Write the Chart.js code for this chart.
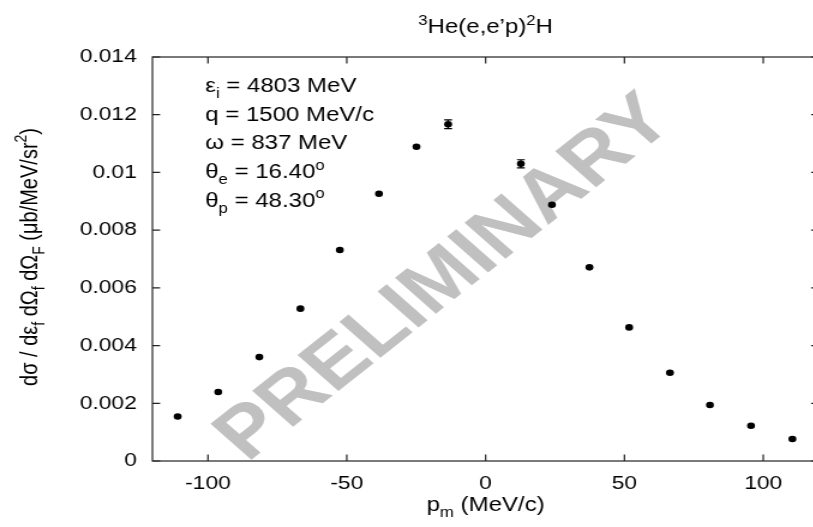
<!DOCTYPE html>
<html>
<head>
<meta charset="utf-8">
<script src="https://cdn.jsdelivr.net/npm/chart.js@4.4.1/dist/chart.umd.min.js"></script>
<style>
  html, body { margin: 0; padding: 0; background: #fff; overflow: hidden; }
</style>
</head>
<body>
<canvas id="chart1" width="690" height="527" style="width:828px;height:527px"></canvas>
<script>
// missing momentum (MeV/c) and cross section (ub/MeV/sr^2)
const pm = [-110.9, -96.3, -81.5, -66.7, -52.5, -38.4, -24.9, -13.5, 12.7, 23.9, 37.4, 51.7, 66.4, 80.8, 95.6, 110.5];
const xsec = [0.00154, 0.00239, 0.0036, 0.00528, 0.00731, 0.00926, 0.01089, 0.01167, 0.0103, 0.00888, 0.00671, 0.00463, 0.00306, 0.00194, 0.00122, 0.00076];
const xsecErr = [0, 0, 0, 0, 0, 0, 0, 0.00015, 0.00014, 0, 0, 0, 0, 0, 0, 0];

const xTicks = [-100, -50, 0, 50, 100];
const yTicks = [0, 0.002, 0.004, 0.006, 0.008, 0.01, 0.012, 0.014];
const yTickLabels = ['0', '0.002', '0.004', '0.006', '0.008', '0.01', '0.012', '0.014'];

const kinematics = [
  [['ε'], ['i', 'sub'], [' = 4803 MeV']],
  [['q = 1500 MeV/c']],
  [['ω = 837 MeV']],
  [['θ'], ['e', 'sub'], [' = 16.40'], ['o', 'sup']],
  [['θ'], ['p', 'sub'], [' = 48.30'], ['o', 'sup']]
];
const titleText = [['3', 'sup'], ['He(e,e’p)'], ['2', 'sup'], ['H']];
const xLabel = [['p'], ['m', 'sub'], [' (MeV/c)']];
const yLabel = [['dσ / dε'], ['f', 'sub'], [' dΩ'], ['f', 'sub'], [' dΩ'], ['F', 'sub'], [' (μb/MeV/sr'], ['2', 'sup'], [')']];

const FONT = '"Liberation Sans", Arial, Helvetica, sans-serif';

// text with sub/superscripts, drawn run by run
function drawRich(ctx, runs, x, y, size, align) {
  const parts = runs.map(([t, kind]) => {
    const s = kind ? size * 0.7 : size;
    ctx.font = s + 'px ' + FONT;
    return { t, s, dy: kind === 'sub' ? size * 0.3 : kind === 'sup' ? -size * 0.42 : 0, w: ctx.measureText(t).width };
  });
  const total = parts.reduce((a, p) => a + p.w, 0);
  let cx = align === 'center' ? x - total / 2 : x;
  ctx.textAlign = 'left';
  ctx.textBaseline = 'alphabetic';
  for (const p of parts) {
    ctx.font = p.s + 'px ' + FONT;
    ctx.fillText(p.t, cx, y + p.dy);
    cx += p.w;
  }
}

const framePlugin = {
  id: 'frame',
  beforeDatasetsDraw(chart) {
    const ctx = chart.ctx;
    const { left, right, top, bottom } = chart.chartArea;
    const xs = chart.scales.x, ys = chart.scales.y;

    // watermark
    ctx.save();
    ctx.translate(206, 463);
    ctx.rotate(-43.5 * Math.PI / 180);
    ctx.font = 'bold 72px ' + FONT;
    ctx.fillStyle = '#c0c0c0';
    ctx.textAlign = 'left';
    ctx.textBaseline = 'alphabetic';
    ctx.fillText('PRELIMINARY', 0, 0);
    ctx.restore();

    // box and inward ticks on all four sides
    ctx.save();
    ctx.strokeStyle = '#222';
    ctx.lineWidth = 1.2;
    ctx.strokeRect(left, top, right - left, bottom - top);
    ctx.beginPath();
    for (const v of xTicks) {
      const px = xs.getPixelForValue(v);
      ctx.moveTo(px, bottom); ctx.lineTo(px, bottom - 6.5);
      ctx.moveTo(px, top); ctx.lineTo(px, top + 6.5);
    }
    for (const v of yTicks) {
      const py = ys.getPixelForValue(v);
      ctx.moveTo(left, py); ctx.lineTo(left + 6.4, py);
      ctx.moveTo(right, py); ctx.lineTo(right - 6.4, py);
    }
    ctx.stroke();
    ctx.restore();
  },
  afterDatasetsDraw(chart) {
    const ctx = chart.ctx;
    const xs = chart.scales.x, ys = chart.scales.y;
    ctx.save();
    ctx.strokeStyle = '#000';
    ctx.lineWidth = 1.2;
    ctx.beginPath();
    pm.forEach((p, i) => {
      if (!xsecErr[i]) return;
      const px = xs.getPixelForValue(p);
      const y1 = ys.getPixelForValue(xsec[i] - xsecErr[i]);
      const y2 = ys.getPixelForValue(xsec[i] + xsecErr[i]);
      ctx.moveTo(px, y1); ctx.lineTo(px, y2);
      ctx.moveTo(px - 3.3, y1); ctx.lineTo(px + 3.3, y1);
      ctx.moveTo(px - 3.3, y2); ctx.lineTo(px + 3.3, y2);
    });
    ctx.stroke();
    ctx.restore();
  },
  afterDraw(chart) {
    const ctx = chart.ctx;
    const { left, right } = chart.chartArea;
    const mid = (left + right) / 2;
    ctx.save();
    ctx.fillStyle = '#000';
    drawRich(ctx, titleText, mid, 33, 20, 'center');
    drawRich(ctx, xLabel, mid, 510.5, 20, 'center');
    kinematics.forEach((line, i) => drawRich(ctx, line, left + 44, 92 + i * 28.7, 20, 'left'));
    ctx.translate(30.6, 257);
    ctx.rotate(-Math.PI / 2);
    drawRich(ctx, yLabel, 0, 0, 20, 'center');
    ctx.restore();
  }
};

const ctx = document.getElementById('chart1');

new Chart(ctx, {
  type: 'scatter',
  data: {
    datasets: [{
      label: '3He(e,e\'p)2H',
      data: pm.map((p, i) => ({ x: p, y: xsec[i] })),
      backgroundColor: '#000',
      borderWidth: 0,
      pointRadius: 3.3,
      pointHoverRadius: 3.3
    }]
  },
  options: {
    responsive: false,
    animation: false,
    devicePixelRatio: 1,
    layout: { padding: { top: 57, right: 7.7, left: 0, bottom: 0 } },
    plugins: { legend: { display: false }, tooltip: { enabled: false } },
    scales: {
      x: {
        type: 'linear',
        min: -120,
        max: 120,
        afterBuildTicks: s => { s.ticks = xTicks.map(v => ({ value: v })); },
        afterFit: s => { s.height = 66; },
        grid: { display: false, drawTicks: false },
        border: { display: false },
        ticks: { autoSkip: false, maxRotation: 0, padding: 11, color: '#000', font: { family: FONT, size: 19 } }
      },
      y: {
        min: 0,
        max: 0.014,
        afterBuildTicks: s => { s.ticks = yTicks.map(v => ({ value: v })); },
        afterFit: s => { s.width = 127; },
        grid: { display: false, drawTicks: false },
        border: { display: false },
        ticks: {
          autoSkip: false,
          padding: 13,
          color: '#000',
          font: { family: FONT, size: 19 },
          callback: v => yTickLabels[yTicks.indexOf(v)]
        }
      }
    }
  },
  plugins: [framePlugin]
});
</script>
</body>
</html>
